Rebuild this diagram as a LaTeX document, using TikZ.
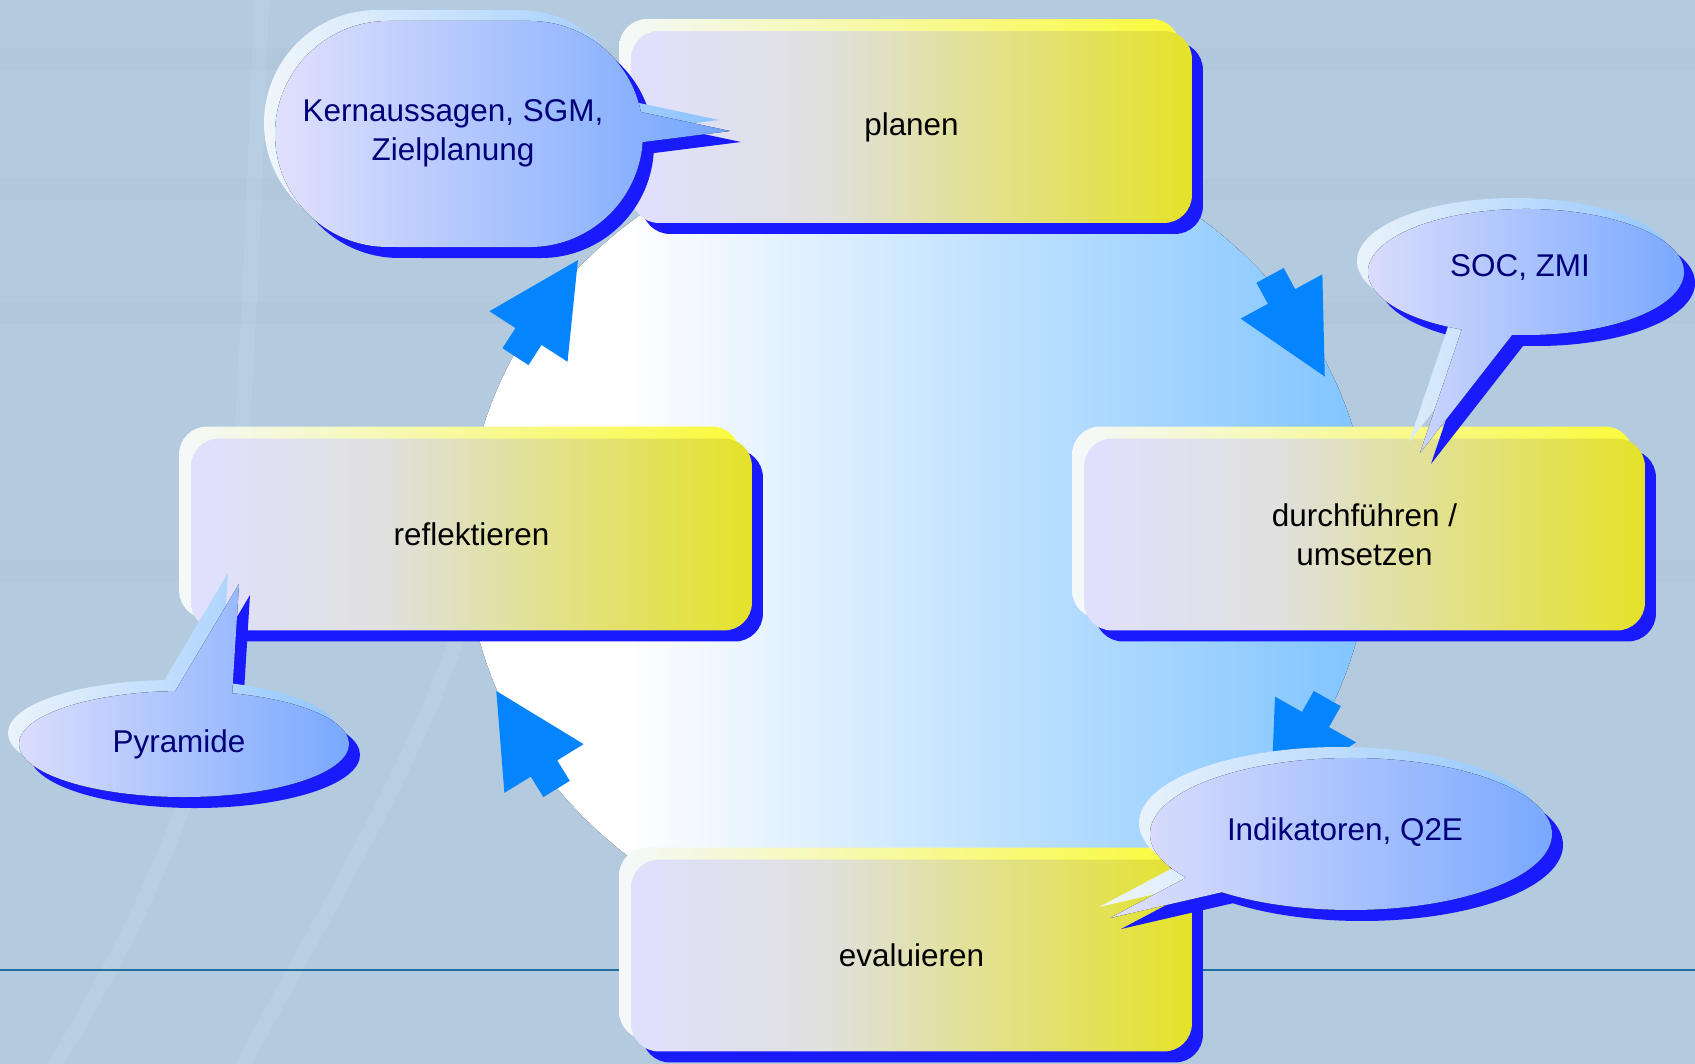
\documentclass[tikz,border=0pt]{standalone}
\usepackage{fontspec}
\setmainfont{Liberation Sans}
\usetikzlibrary{shadows}

\definecolor{bgsteel}{RGB}{179,202,223}
\definecolor{rulecol}{RGB}{30,110,160}
\definecolor{shadowblue}{RGB}{26,26,255}
\definecolor{arrowblue}{RGB}{5,132,255}
\definecolor{ringL}{RGB}{254,254,255}
\definecolor{ringR}{RGB}{128,196,255}
\definecolor{faceA}{RGB}{224,224,255}
\definecolor{faceB}{RGB}{224,224,222}
\definecolor{faceC}{RGB}{228,226,40}
\definecolor{glowL}{RGB}{244,248,250}
\definecolor{glowR}{RGB}{250,250,60}
\definecolor{bubL}{RGB}{224,224,252}
\definecolor{bubR}{RGB}{115,165,255}
\definecolor{bubglowL}{RGB}{240,246,250}
\definecolor{bubglowR}{RGB}{140,195,255}
\definecolor{bubink}{RGB}{0,0,120}

\pgfdeclarehorizontalshading{boxface}{100bp}{color(0bp)=(faceA); color(25bp)=(faceA); color(42.5bp)=(faceB); color(75bp)=(faceC); color(100bp)=(faceC)}
\pgfdeclarehorizontalshading{ringface}{100bp}{color(0bp)=(ringL); color(25bp)=(ringL); color(34bp)=(ringL); color(75bp)=(ringR); color(100bp)=(ringR)}

\begin{document}
\begin{tikzpicture}[x=0.02cm, y=-0.02cm,
	boxnode/.style={rectangle, rounded corners=0.56cm,
		minimum width=11.22cm, minimum height=3.84cm,
		shade, shading=boxface, text=black, align=center,
		font=\fontsize{17.9}{22.2}\selectfont,
		general shadow={shadow xshift=0.22cm, shadow yshift=-0.22cm, fill=shadowblue},
		general shadow={shadow xshift=-0.24cm, shadow yshift=0.24cm, left color=glowL, right color=glowR}},
	bubble/.style={left color=bubL, right color=bubR,
		general shadow={shadow xshift=0.22cm, shadow yshift=-0.22cm, fill=shadowblue},
		general shadow={shadow xshift=-0.22cm, shadow yshift=0.22cm, left color=bubglowL, right color=bubglowR}},
	bubtext/.style={text=bubink, align=center, font=\fontsize{17.9}{22.2}\selectfont},
	fatarrow/.style={fill=arrowblue},
	streak/.style={white, opacity=0.08, line width=0.3cm, line cap=round}
	]

	\def\xL{471.5}
	\def\xM{911.5}
	\def\xR{1364.5}
	%
	\def\yT{127}
	\def\yM{534.5}
	\def\yB{955.5}

	% background
	\useasboundingbox (0,0) rectangle (1695,1064);
	\fill[bgsteel] (0,0) rectangle (1695,1064);
	\begin{scope}
		\clip (0,0) rectangle (1695,1064);
		\foreach \y in {48, 178, 302, 560}{
			\fill[black, opacity=0.012] (0,\y) rectangle (1695,{\y+22});
		}
		\draw[streak] (262,-10) .. controls (252,250) and (245,450) .. (225,640)
			.. controls (205,800) and (120,960) .. (40,1090);
		\draw[streak] (470,600) .. controls (420,760) and (330,900) .. (230,1090);
	\end{scope}
	\draw[rulecol, line width=0.05cm] (0,970) -- (1695,970);

	% ring
	\fill[shade, shading=ringface]
		(918,540) ellipse [x radius=452, y radius=412];

	% arrows
	\foreach \bx/\by/\ang in {528.5/336.5/57.1, 1281.5/296.5/-61.6,
		1315.5/719.5/-119.4, 544/768.5/121.6}{
		\fill[fatarrow, shift={(\bx,\by)}, rotate=\ang]
			(-24,-15.5) -- (0,-15.5) -- (0,-46.5) -- (91,0)
			-- (0,46.5) -- (0,15.5) -- (-24,15.5) -- cycle;
	}

	% boxes
	\node[boxnode] (planen) at (\xM,\yT) {planen};
	\node[boxnode] (reflekt) at (\xL,\yM) {reflektieren};
	\node[boxnode] (durch) at (\xR,\yM) {durchführen /\\umsetzen};
	\node[boxnode] (eval) at (\xM,\yB) {evaluieren};

	% callouts
	\fill[bubble]
		(642.7,142.1) arc[start angle=4.1, end angle=90, radius=113]
		-- (388,247) arc[start angle=90, end angle=270, radius=113]
		-- (530,21) arc[start angle=270, end angle=348.8, radius=113]
		-- (730,131) -- cycle;
	\fill[bubble]
		({1526+158*cos(114)},{272+63*sin(114)})
		arc[start angle=114, end angle=455, x radius=158, y radius=63]
		-- (1420,453) -- cycle;
	\fill[bubble]
		({184+165*cos(287)},{744+53*sin(287)})
		arc[start angle=287, end angle=627, x radius=165, y radius=53]
		-- (239,584) -- cycle;
	\fill[bubble]
		({1351+201*cos(145)},{834+76*sin(145)})
		arc[start angle=145, end angle=490, x radius=201, y radius=76]
		-- (1110,918) -- cycle;

	\node[bubtext] (kern) at (453,133) {Kernaussagen, SGM,\\Zielplanung};
	\node[bubtext] (soc) at (1520,268) {SOC, ZMI};
	\node[bubtext] (pyr) at (179,744) {Pyramide};
	\node[bubtext] (ind) at (1345,832) {Indikatoren, Q2E};

\end{tikzpicture}
\end{document}
